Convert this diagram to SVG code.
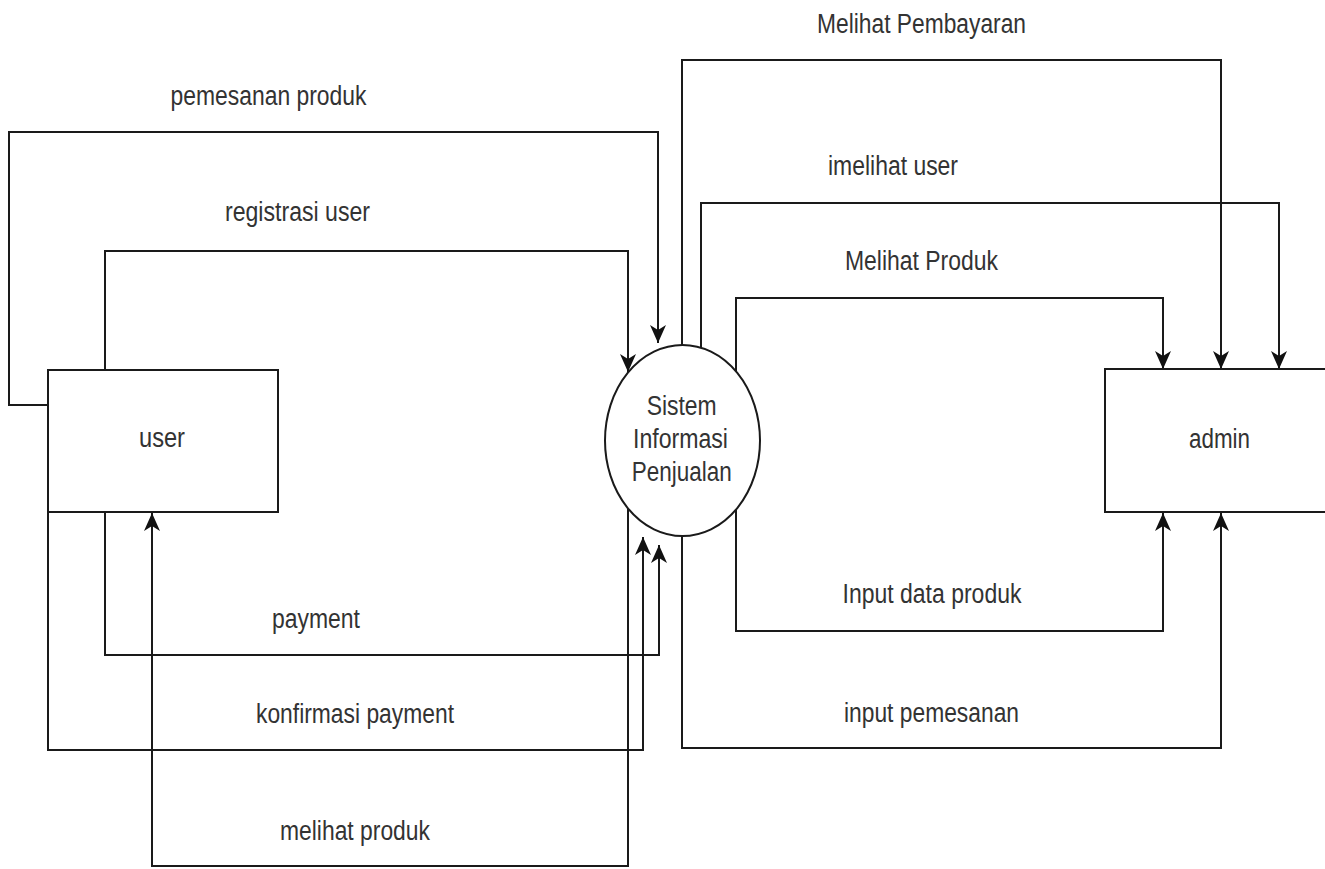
<svg xmlns="http://www.w3.org/2000/svg" width="1325" height="869" viewBox="0 0 1325 869">
<style>
.node{fill:#ffffff;stroke:#1a1a1a;stroke-width:2}
.conn{fill:none;stroke:#1a1a1a;stroke-width:2}
.arr{marker-end:url(#ah)}
text{font-family:"Liberation Sans",Arial,sans-serif;font-size:27px;fill:#333333;text-anchor:middle}
</style>
<defs>
<marker id="ah" markerUnits="userSpaceOnUse" markerWidth="19" markerHeight="16" viewBox="0 0 19 16" refX="18" refY="8" orient="auto">
<path d="M0,0 L18,8 L0,16 L5,8 z" fill="#111111"/>
</marker>
</defs>
<rect width="1325" height="869" fill="#ffffff"/>
<g id="connectors">
<path class="conn arr" d="M48,405 H9 V132 H658 V343"/>
<path class="conn arr" d="M105,370 V251 H628 V372"/>
<path class="conn arr" d="M628,509 V866 H152 V513"/>
<path class="conn arr" d="M48,512 V750 H643 V537"/>
<path class="conn arr" d="M105,512 V655 H659 V545"/>
<path class="conn arr" d="M682,345 V60 H1221 V369"/>
<path class="conn arr" d="M701,348 V203 H1279 V369"/>
<path class="conn arr" d="M736,371 V298 H1163 V369"/>
<path class="conn arr" d="M736,510 V631 H1163 V513"/>
<path class="conn arr" d="M682,536 V748 H1221 V513"/>
<text x="268.5" y="105" textLength="196" lengthAdjust="spacingAndGlyphs">pemesanan produk</text>
<text x="297.5" y="221" textLength="145" lengthAdjust="spacingAndGlyphs">registrasi user</text>
<text x="316" y="628" textLength="88" lengthAdjust="spacingAndGlyphs">payment</text>
<text x="355" y="723" textLength="198" lengthAdjust="spacingAndGlyphs">konfirmasi payment</text>
<text x="355" y="840" textLength="150" lengthAdjust="spacingAndGlyphs">melihat produk</text>
<text x="921.5" y="33" textLength="209" lengthAdjust="spacingAndGlyphs">Melihat Pembayaran</text>
<text x="893" y="175" textLength="130" lengthAdjust="spacingAndGlyphs">imelihat user</text>
<text x="921.5" y="270" textLength="153" lengthAdjust="spacingAndGlyphs">Melihat Produk</text>
<text x="932" y="603" textLength="179" lengthAdjust="spacingAndGlyphs">Input data produk</text>
<text x="931.5" y="722" textLength="175" lengthAdjust="spacingAndGlyphs">input pemesanan</text>
</g>
<g id="user">
<rect class="node" x="48" y="370" width="230" height="142"/>
<text x="162" y="447" textLength="46" lengthAdjust="spacingAndGlyphs">user</text>
</g>
<g id="sistem">
<ellipse class="node" cx="682.5" cy="440.5" rx="77.5" ry="95.5"/>
<text x="681.7" y="415" textLength="70" lengthAdjust="spacingAndGlyphs">Sistem</text>
<text x="680.5" y="448" textLength="95" lengthAdjust="spacingAndGlyphs">Informasi</text>
<text x="681.7" y="481" textLength="100" lengthAdjust="spacingAndGlyphs">Penjualan</text>
</g>
<g id="admin">
<rect class="node" x="1105" y="369" width="230" height="143"/>
<text x="1219.5" y="448" textLength="61" lengthAdjust="spacingAndGlyphs">admin</text>
</g>
</svg>
